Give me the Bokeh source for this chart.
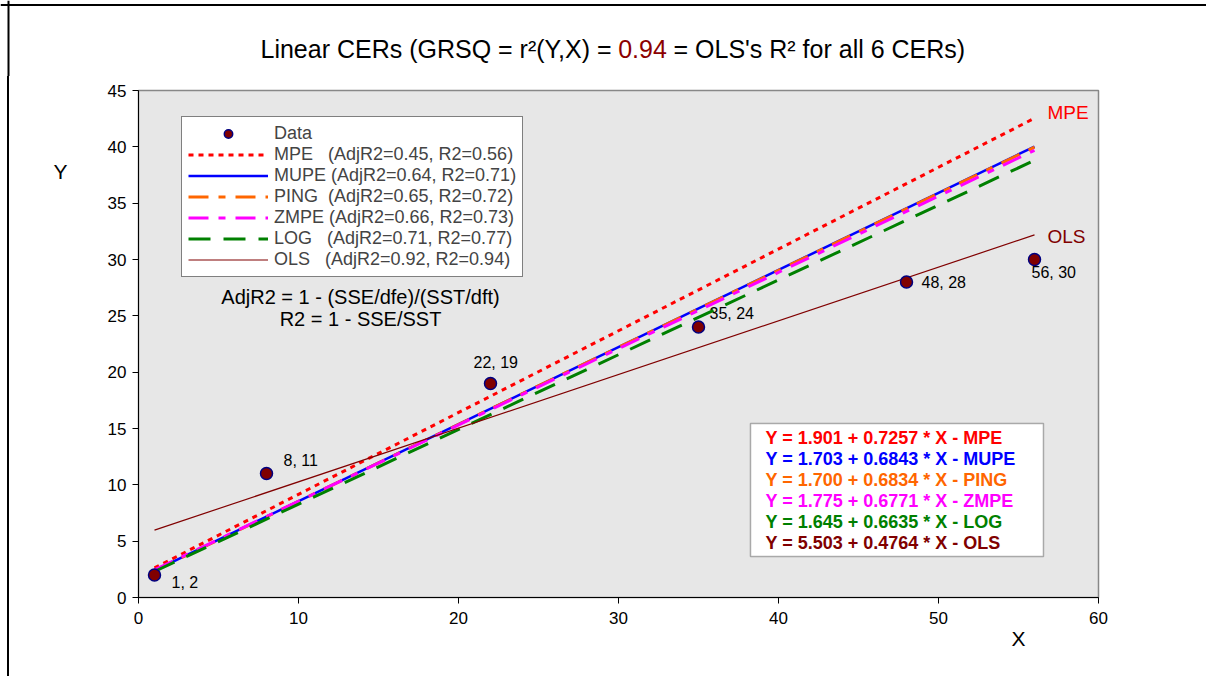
from bokeh.plotting import figure
from bokeh.layouts import column, row
from bokeh.models import (Range1d, FixedTicker, Legend, LegendItem, Label, LabelSet,
                          BoxAnnotation, ColumnDataSource, Title, Span, Spacer)
from bokeh.core.properties import value
from bokeh.embed import file_html
from bokeh.resources import INLINE

# ---------------- data ----------------
x_data = [1, 8, 22, 35, 48, 56]
y_data = [2, 11, 19, 24, 28, 30]
point_labels = ["1, 2", "8, 11", "22, 19", "35, 24", "48, 28", "56, 30"]

cer_names = ["MPE", "MUPE", "PING", "ZMPE", "LOG", "OLS"]
intercepts = [1.901, 1.703, 1.700, 1.775, 1.645, 5.503]
slopes = [0.7257, 0.6843, 0.6834, 0.6771, 0.6635, 0.4764]
adj_r2 = [0.45, 0.64, 0.65, 0.66, 0.71, 0.92]
r2 = [0.56, 0.71, 0.72, 0.73, 0.77, 0.94]
x_fit = [1, 56]

x_ticks = [0, 10, 20, 30, 40, 50, 60]
y_ticks = [0, 5, 10, 15, 20, 25, 30, 35, 40, 45]
grsq = 0.94

# ---------------- styles ----------------
FONT = "Liberation Sans"
NB = "\u00a0"
colors = {"MPE": "#FF0000", "MUPE": "#0000FF", "PING": "#FF6600",
          "ZMPE": "#FF00FF", "LOG": "#008000", "OLS": "#800000"}
dashes = {"MPE": "5 5", "MUPE": "solid", "PING": "20 10 7 10",
          "ZMPE": "20 10 7 10", "LOG": "22 13", "OLS": "solid"}
widths = {"MPE": 3, "MUPE": 2.5, "PING": 3, "ZMPE": 3, "LOG": 3, "OLS": 1.2}
name_pad = {"MPE": 3, "MUPE": 1, "PING": 2, "ZMPE": 1, "LOG": 3, "OLS": 3}
# label offsets (px; right, up)
lab_dx = [17, 17, -17, 11, 15, -3]
lab_dy = [-8, 13, 21, 14, 0, -13]


def blank_fig(w, h, xr, yr):
    f = figure(width=w, height=h, output_backend="svg", toolbar_location=None,
               x_range=Range1d(*xr), y_range=Range1d(*yr),
               x_axis_location=None, y_axis_location=None,
               min_border_left=0, min_border_right=0, min_border_top=0, min_border_bottom=0)
    f.outline_line_color = None
    f.background_fill_color = "white"
    f.border_fill_color = "white"
    f.xgrid.visible = False
    f.ygrid.visible = False
    return f


# ---------------- title strip (page-pixel coordinates) ----------------
tfig = blank_fig(1206, 76, (0, 1206), (76, 0))
tfig.add_layout(Span(location=8, dimension="height", line_color="black", line_width=2))
tfig.add_layout(Span(location=4.5, dimension="width", line_color="black", line_width=2))
tcommon = dict(text_font=FONT, text_font_size="25px", text_baseline="middle")
tx, ty = 642, 48
tfig.add_layout(Label(x=tx, y=ty, x_offset=-31, text="Linear CERs (GRSQ = r\u00b2(Y,X) =",
                      text_color="black", text_align="right", **tcommon))
tfig.add_layout(Label(x=tx, y=ty, text=f"{grsq:.2f}", text_color="#8B0000",
                      text_align="center", **tcommon))
tfig.add_layout(Label(x=tx, y=ty, x_offset=31, text="= OLS's R\u00b2 for all 6 CERs)",
                      text_color="black", text_align="left", **tcommon))

# ---------------- left strip with the Y label ----------------
yfig = blank_fig(90, 600, (9, 99), (676, 76))
yfig.add_layout(Label(x=60, y=172, text="Y", text_font=FONT, text_font_size="21px",
                      text_baseline="middle", text_align="center", text_color="black"))

# ---------------- main chart ----------------
p = figure(width=1107, height=600, output_backend="svg", toolbar_location=None,
           x_range=Range1d(0, 60), y_range=Range1d(0, 45),
           min_border_left=39, min_border_right=108, min_border_top=14, min_border_bottom=79)
p.background_fill_color = "#e7e7e7"
p.border_fill_color = "white"
p.outline_line_color = "#888888"
p.outline_line_width = 1.5
p.xgrid.visible = False
p.ygrid.visible = False

for ax, ticks in ((p.xaxis, x_ticks), (p.yaxis, y_ticks)):
    ax.ticker = FixedTicker(ticks=ticks)
    ax.major_tick_out = 6
    ax.major_tick_in = 0
    ax.minor_tick_out = 0
    ax.minor_tick_in = 0
    ax.axis_line_color = "black"
    ax.axis_line_width = 1
    ax.major_tick_line_color = "black"
    ax.major_label_text_font = FONT
    ax.major_label_text_font_size = "17px"
    ax.major_label_text_color = "black"
p.yaxis.major_label_standoff = 6
p.xaxis.major_label_standoff = 8

# X axis title as a below-panel title shifted to the right
p.add_layout(Title(text="X", align="left", offset=873, standoff=0, vertical_align="top",
                   text_font=FONT, text_font_size="21px", text_font_style="normal",
                   text_color="black"), "below")

# fitted lines
items = []
for name, a, b, adj, rr in zip(cer_names, intercepts, slopes, adj_r2, r2):
    ys = [a + b * xv for xv in x_fit]
    r = p.line(x_fit, ys, line_color=colors[name], line_width=widths[name],
               line_dash=dashes[name])
    lbl = f"{name}{NB * name_pad[name]}(AdjR2={adj:.2f}, R2={rr:.2f})"
    items.append(LegendItem(label=lbl, renderers=[r]))

# data points
src = ColumnDataSource(dict(x=x_data, y=y_data, t=point_labels, dx=lab_dx, dy=lab_dy))
pts = p.scatter("x", "y", source=src, size=12, fill_color="#800000",
                line_color="#000080", line_width=1.5)
items.insert(0, LegendItem(label="Data", renderers=[pts]))

p.add_layout(LabelSet(x="x", y="y", text="t", source=src, x_offset="dx", y_offset="dy",
                      text_font=value(FONT), text_font_size="16px", text_color="black",
                      text_baseline="middle", text_align="left"))

legend = Legend(items=items, location=(43, 320))
legend.label_text_font = FONT
legend.label_text_font_size = "18px"
legend.glyph_width = 80
legend.glyph_height = 21
legend.label_height = 21
legend.label_standoff = 6
legend.spacing = 0
legend.padding = 6
legend.margin = 0
legend.border_line_color = "black"
legend.border_line_width = 1
legend.background_fill_color = "white"
legend.background_fill_alpha = 1
p.add_layout(legend)

# line-end labels
for name, off in (("MPE", -6), ("OLS", 2)):
    i = cer_names.index(name)
    yend = intercepts[i] + slopes[i] * x_fit[-1]
    p.add_layout(Label(x=x_fit[-1], y=yend, text=name, x_offset=13, y_offset=-off,
                       text_font=FONT, text_font_size="19px", text_color=colors[name],
                       text_baseline="middle", text_align="left"))

# equation box
p.add_layout(BoxAnnotation(left=38.25, right=56.56, top=15.44, bottom=3.64,
                           fill_color="white", fill_alpha=1, line_color="black",
                           line_width=1.5))
for i, (name, a, b) in enumerate(zip(cer_names, intercepts, slopes)):
    p.add_layout(Label(x=39.19, y=14.2, y_offset=-21 * i,
                       text=f"Y = {a:.3f} + {b:.4f} * X - {name}",
                       text_font=FONT, text_font_size="18px", text_font_style="bold",
                       text_color=colors[name], text_baseline="middle", text_align="left"))

# formulas
p.add_layout(Label(x=13.875, y=26.63, text="AdjR2 = 1 - (SSE/dfe)/(SST/dft)",
                   text_font=FONT, text_font_size="20px", text_color="black",
                   text_baseline="middle", text_align="center"))
p.add_layout(Label(x=13.875, y=24.76, text="R2 = 1 - SSE/SST",
                   text_font=FONT, text_font_size="20px", text_color="black",
                   text_baseline="middle", text_align="center"))

left_gap = Spacer(width=7, height=600)
left_line = Spacer(width=2, height=600, styles={"background-color": "black"})
layout = column(tfig, row(left_gap, left_line, yfig, p, spacing=0), spacing=0)

open("out.html", "w").write(file_html(layout, INLINE))
